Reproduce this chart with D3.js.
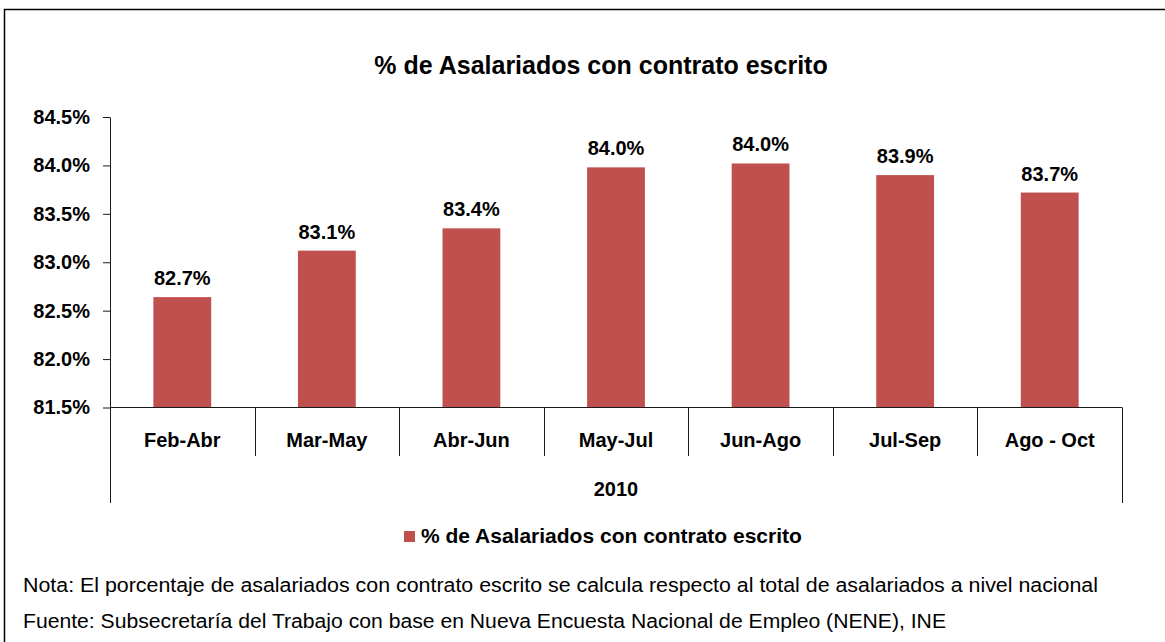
<!DOCTYPE html>
<html>
<head>
<meta charset="utf-8">
<script src="https://cdn.jsdelivr.net/npm/d3@7"></script>
<style>
  html, body { margin: 0; padding: 0; background: #fff; }
  svg { display: block; font-family: "Liberation Sans", Arial, sans-serif; }
</style>
</head>
<body>
<div class="chart"></div>
<script>
// data
let categories = ["Feb-Abr", "Mar-May", "Abr-Jun", "May-Jul", "Jun-Ago", "Jul-Sep", "Ago - Oct"];
let values = [82.64, 83.12, 83.35, 83.98, 84.02, 83.90, 83.72];
let valueLabels = ["82.7%", "83.1%", "83.4%", "84.0%", "84.0%", "83.9%", "83.7%"];
let yTicks = [81.5, 82.0, 82.5, 83.0, 83.5, 84.0, 84.5];
let groupLabel = "2010";
let seriesName = "% de Asalariados con contrato escrito";
let notes = [
    "Nota: El porcentaje de asalariados con contrato escrito se calcula respecto al total de asalariados a nivel nacional",
    "Fuente: Subsecretaría del Trabajo con base en Nueva Encuesta Nacional de Empleo (NENE), INE"
];

const svgW = 1165;
const svgH = 642;
const plot = {left: 110, right: 1122, top: 117, bottom: 407.5};
const barColor = "#C0504D";
const lineColor = "#1a1a1a";

const svg = d3.select("div.chart")
    .append("svg")
        .attr("width", svgW)
        .attr("height", svgH);

// outer frame (cut off on the right and bottom in the reference)
svg.append("rect")
    .attr("x", 4.5)
    .attr("y", 9.5)
    .attr("width", 1300)
    .attr("height", 800)
    .attr("fill", "none")
    .attr("stroke", "#000")
    .attr("stroke-width", 1.5);

svg.append("text")
    .attr("x", 601)
    .attr("y", 74)
    .attr("text-anchor", "middle")
    .style("font-size", "25px")
    .style("font-weight", "bold")
    .text(seriesName);

let y = d3.scaleLinear()
    .domain([81.5, 84.5])
    .range([plot.bottom, plot.top]);

let x = d3.scaleBand()
    .domain(categories)
    .range([plot.left, plot.right])
    .paddingInner(0.6)
    .paddingOuter(0.3);

let xGroup = d3.scaleBand()
    .domain(categories)
    .range([plot.left, plot.right])
    .padding(0);

// bars
svg.append("g")
    .selectAll("rect")
    .data(values)
    .join("rect")
    .attr("x", (d, i) => x(categories[i]))
    .attr("y", d => y(d))
    .attr("width", x.bandwidth())
    .attr("height", d => y(81.5) - y(d))
    .attr("fill", barColor);

// value labels
svg.append("g")
    .selectAll("text")
    .data(values)
    .join("text")
    .attr("x", (d, i) => x(categories[i]) + x.bandwidth() / 2)
    .attr("y", d => y(d) - 12)
    .attr("text-anchor", "middle")
    .style("font-size", "20px")
    .style("font-weight", "bold")
    .text((d, i) => valueLabels[i]);

// y axis
let yAxis = svg.append("g")
    .attr("transform", `translate(${plot.left},0)`)
    .call(d3.axisLeft(y)
        .tickValues(yTicks)
        .tickSize(7)
        .tickSizeOuter(0)
        .tickPadding(13)
        .tickFormat(d => d3.format(".1f")(d) + "%"));
yAxis.selectAll("path, line").attr("stroke", lineColor);
yAxis.selectAll("text")
    .attr("fill", "#000")
    .style("font-size", "20px")
    .style("font-weight", "bold")
    .style("font-family", "'Liberation Sans', Arial, sans-serif");

// x axis line
svg.append("line")
    .attr("x1", plot.left)
    .attr("x2", plot.right)
    .attr("y1", plot.bottom)
    .attr("y2", plot.bottom)
    .attr("stroke", lineColor);

// category dividers
let edges = categories.map(c => xGroup(c)).concat([plot.right]);
svg.append("g")
    .selectAll("line")
    .data(edges)
    .join("line")
    .attr("x1", d => Math.round(d) + 0.5)
    .attr("x2", d => Math.round(d) + 0.5)
    .attr("y1", plot.bottom)
    .attr("y2", (d, i) => (i === 0 || i === edges.length - 1) ? 503 : 456)
    .attr("stroke", lineColor);

// category labels
svg.append("g")
    .selectAll("text")
    .data(categories)
    .join("text")
    .attr("x", d => xGroup(d) + xGroup.bandwidth() / 2)
    .attr("y", 447)
    .attr("text-anchor", "middle")
    .style("font-size", "20px")
    .style("font-weight", "bold")
    .text(d => d);

svg.append("text")
    .attr("x", (plot.left + plot.right) / 2)
    .attr("y", 496)
    .attr("text-anchor", "middle")
    .style("font-size", "20px")
    .style("font-weight", "bold")
    .text(groupLabel);

// legend
svg.append("rect")
    .attr("x", 404)
    .attr("y", 531)
    .attr("width", 11)
    .attr("height", 11)
    .attr("fill", barColor);

svg.append("text")
    .attr("x", 421)
    .attr("y", 543)
    .style("font-size", "21px")
    .style("font-weight", "bold")
    .text(seriesName);

// notes
let noteY = [592, 628];
let noteW = [1075, 923];
svg.append("g")
    .selectAll("text")
    .data(notes)
    .join("text")
    .attr("x", 23)
    .attr("y", (d, i) => noteY[i])
    .attr("textLength", (d, i) => noteW[i])
    .attr("lengthAdjust", "spacingAndGlyphs")
    .style("font-size", "20px")
    .text(d => d);
</script>
</body>
</html>
